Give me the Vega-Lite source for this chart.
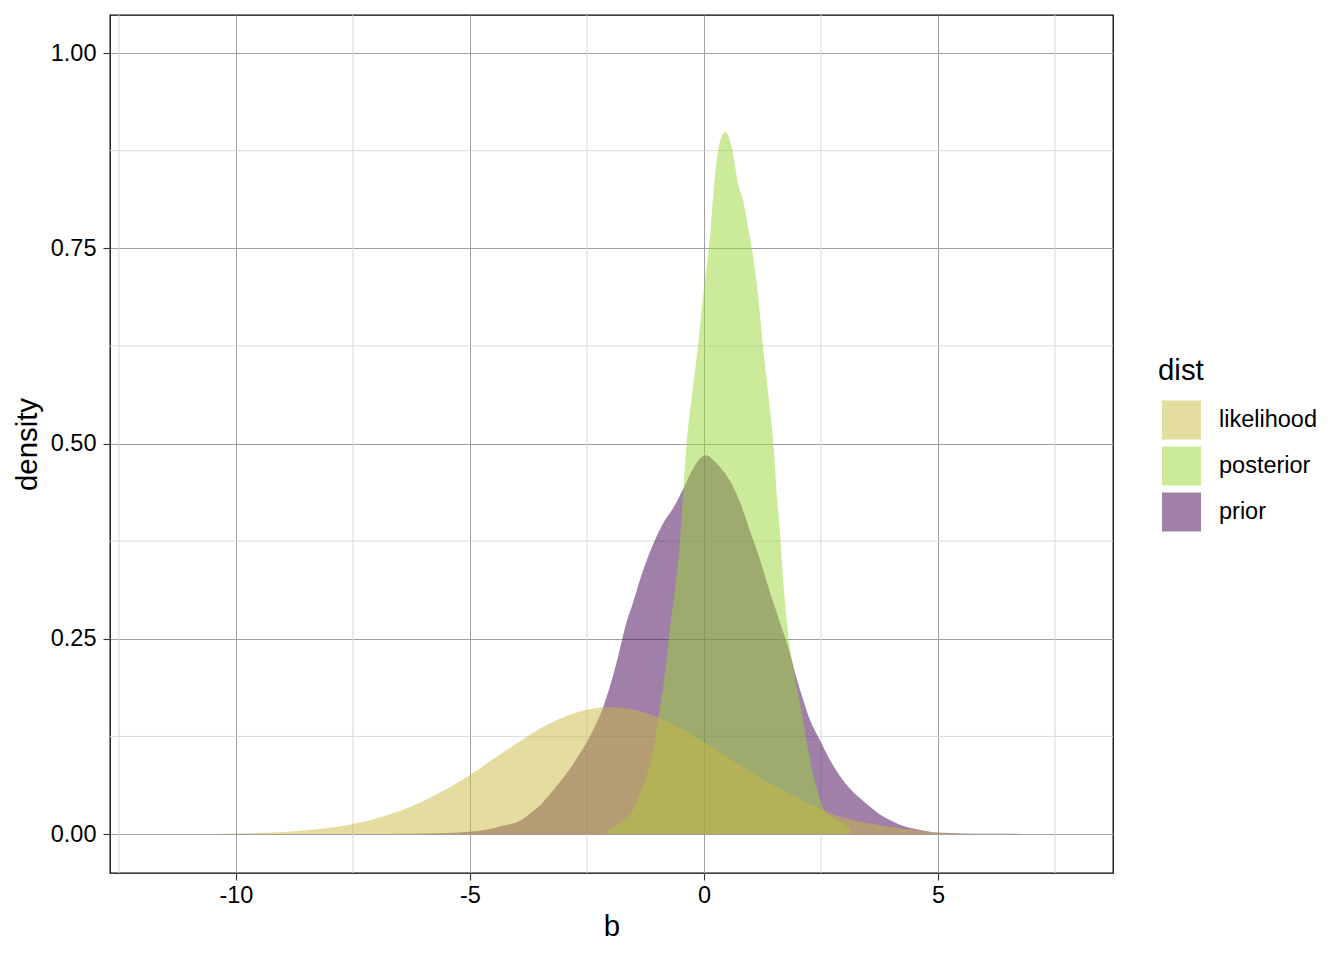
{
  "$schema": "https://vega.github.io/schema/vega-lite/v6.json",
  "width": 1003,
  "height": 858,
  "autosize": "none",
  "padding": {"left": 110, "top": 15, "right": 231, "bottom": 87},
  "background": "white",
  "datasets": {
    "dens": [
      {"dist": "prior", "b": -6.64, "density": 0.0003},
      {"dist": "prior", "b": -6.0, "density": 0.0006},
      {"dist": "prior", "b": -5.5, "density": 0.0012},
      {"dist": "prior", "b": -5.0, "density": 0.003},
      {"dist": "prior", "b": -4.6, "density": 0.006},
      {"dist": "prior", "b": -4.36, "density": 0.010},
      {"dist": "prior", "b": -3.93, "density": 0.017},
      {"dist": "prior", "b": -3.68, "density": 0.028},
      {"dist": "prior", "b": -3.5, "density": 0.037},
      {"dist": "prior", "b": -3.22, "density": 0.056},
      {"dist": "prior", "b": -2.93, "density": 0.078},
      {"dist": "prior", "b": -2.65, "density": 0.103},
      {"dist": "prior", "b": -2.37, "density": 0.133},
      {"dist": "prior", "b": -2.15, "density": 0.163},
      {"dist": "prior", "b": -2.01, "density": 0.189},
      {"dist": "prior", "b": -1.87, "density": 0.219},
      {"dist": "prior", "b": -1.76, "density": 0.246},
      {"dist": "prior", "b": -1.65, "density": 0.272},
      {"dist": "prior", "b": -1.51, "density": 0.297},
      {"dist": "prior", "b": -1.37, "density": 0.325},
      {"dist": "prior", "b": -1.22, "density": 0.351},
      {"dist": "prior", "b": -1.05, "density": 0.376},
      {"dist": "prior", "b": -0.87, "density": 0.398},
      {"dist": "prior", "b": -0.66, "density": 0.417},
      {"dist": "prior", "b": -0.44, "density": 0.442},
      {"dist": "prior", "b": -0.23, "density": 0.468},
      {"dist": "prior", "b": -0.08, "density": 0.481},
      {"dist": "prior", "b": 0.06, "density": 0.485},
      {"dist": "prior", "b": 0.2, "density": 0.479},
      {"dist": "prior", "b": 0.34, "density": 0.470},
      {"dist": "prior", "b": 0.56, "density": 0.452},
      {"dist": "prior", "b": 0.77, "density": 0.425},
      {"dist": "prior", "b": 0.98, "density": 0.389},
      {"dist": "prior", "b": 1.20, "density": 0.351},
      {"dist": "prior", "b": 1.41, "density": 0.310},
      {"dist": "prior", "b": 1.62, "density": 0.272},
      {"dist": "prior", "b": 1.84, "density": 0.231},
      {"dist": "prior", "b": 1.98, "density": 0.199},
      {"dist": "prior", "b": 2.12, "density": 0.172},
      {"dist": "prior", "b": 2.26, "density": 0.147},
      {"dist": "prior", "b": 2.48, "density": 0.120},
      {"dist": "prior", "b": 2.69, "density": 0.095},
      {"dist": "prior", "b": 2.91, "density": 0.074},
      {"dist": "prior", "b": 3.12, "density": 0.058},
      {"dist": "prior", "b": 3.33, "density": 0.046},
      {"dist": "prior", "b": 3.55, "density": 0.035},
      {"dist": "prior", "b": 3.76, "density": 0.025},
      {"dist": "prior", "b": 3.97, "density": 0.018},
      {"dist": "prior", "b": 4.19, "density": 0.012},
      {"dist": "prior", "b": 4.47, "density": 0.007},
      {"dist": "prior", "b": 4.83, "density": 0.003},
      {"dist": "prior", "b": 5.04, "density": 0.0015},
      {"dist": "prior", "b": 5.5, "density": 0.0008},
      {"dist": "prior", "b": 6.0, "density": 0.0005},
      {"dist": "prior", "b": 6.7, "density": 0.0003},

      {"dist": "posterior", "b": -2.09, "density": 0.002},
      {"dist": "posterior", "b": -1.9, "density": 0.010},
      {"dist": "posterior", "b": -1.72, "density": 0.018},
      {"dist": "posterior", "b": -1.55, "density": 0.027},
      {"dist": "posterior", "b": -1.45, "density": 0.039},
      {"dist": "posterior", "b": -1.37, "density": 0.052},
      {"dist": "posterior", "b": -1.19, "density": 0.082},
      {"dist": "posterior", "b": -1.05, "density": 0.120},
      {"dist": "posterior", "b": -0.94, "density": 0.163},
      {"dist": "posterior", "b": -0.83, "density": 0.206},
      {"dist": "posterior", "b": -0.73, "density": 0.261},
      {"dist": "posterior", "b": -0.62, "density": 0.312},
      {"dist": "posterior", "b": -0.51, "density": 0.376},
      {"dist": "posterior", "b": -0.44, "density": 0.440},
      {"dist": "posterior", "b": -0.37, "density": 0.500},
      {"dist": "posterior", "b": -0.25, "density": 0.565},
      {"dist": "posterior", "b": -0.12, "density": 0.628},
      {"dist": "posterior", "b": -0.01, "density": 0.693},
      {"dist": "posterior", "b": 0.13, "density": 0.765},
      {"dist": "posterior", "b": 0.235, "density": 0.842},
      {"dist": "posterior", "b": 0.34, "density": 0.886},
      {"dist": "posterior", "b": 0.46, "density": 0.899},
      {"dist": "posterior", "b": 0.59, "density": 0.880},
      {"dist": "posterior", "b": 0.73, "density": 0.833},
      {"dist": "posterior", "b": 0.84, "density": 0.810},
      {"dist": "posterior", "b": 0.98, "density": 0.765},
      {"dist": "posterior", "b": 1.13, "density": 0.705},
      {"dist": "posterior", "b": 1.27, "density": 0.620},
      {"dist": "posterior", "b": 1.41, "density": 0.545},
      {"dist": "posterior", "b": 1.48, "density": 0.504},
      {"dist": "posterior", "b": 1.55, "density": 0.440},
      {"dist": "posterior", "b": 1.62, "density": 0.390},
      {"dist": "posterior", "b": 1.69, "density": 0.327},
      {"dist": "posterior", "b": 1.77, "density": 0.274},
      {"dist": "posterior", "b": 1.87, "density": 0.225},
      {"dist": "posterior", "b": 1.98, "density": 0.189},
      {"dist": "posterior", "b": 2.09, "density": 0.155},
      {"dist": "posterior", "b": 2.19, "density": 0.120},
      {"dist": "posterior", "b": 2.33, "density": 0.078},
      {"dist": "posterior", "b": 2.48, "density": 0.044},
      {"dist": "posterior", "b": 2.59, "density": 0.029},
      {"dist": "posterior", "b": 2.76, "density": 0.021},
      {"dist": "posterior", "b": 2.94, "density": 0.0145},
      {"dist": "posterior", "b": 3.12, "density": 0.0073},

      {"dist": "likelihood", "b": -10.3, "density": 0.0005},
      {"dist": "likelihood", "b": -10.0, "density": 0.0008},
      {"dist": "likelihood", "b": -9.5, "density": 0.0015},
      {"dist": "likelihood", "b": -9.0, "density": 0.0027},
      {"dist": "likelihood", "b": -8.5, "density": 0.0048},
      {"dist": "likelihood", "b": -8.0, "density": 0.0080},
      {"dist": "likelihood", "b": -7.5, "density": 0.0130},
      {"dist": "likelihood", "b": -7.0, "density": 0.0200},
      {"dist": "likelihood", "b": -6.5, "density": 0.0295},
      {"dist": "likelihood", "b": -6.0, "density": 0.0420},
      {"dist": "likelihood", "b": -5.5, "density": 0.0575},
      {"dist": "likelihood", "b": -5.0, "density": 0.0755},
      {"dist": "likelihood", "b": -4.5, "density": 0.0960},
      {"dist": "likelihood", "b": -4.0, "density": 0.1160},
      {"dist": "likelihood", "b": -3.5, "density": 0.1350},
      {"dist": "likelihood", "b": -3.0, "density": 0.1495},
      {"dist": "likelihood", "b": -2.5, "density": 0.1590},
      {"dist": "likelihood", "b": -2.0, "density": 0.1628},
      {"dist": "likelihood", "b": -1.5, "density": 0.1595},
      {"dist": "likelihood", "b": -1.0, "density": 0.1500},
      {"dist": "likelihood", "b": -0.5, "density": 0.1355},
      {"dist": "likelihood", "b": 0.0, "density": 0.1180},
      {"dist": "likelihood", "b": 0.5, "density": 0.0985},
      {"dist": "likelihood", "b": 1.0, "density": 0.0795},
      {"dist": "likelihood", "b": 1.5, "density": 0.0620},
      {"dist": "likelihood", "b": 2.0, "density": 0.0460},
      {"dist": "likelihood", "b": 2.5, "density": 0.0315},
      {"dist": "likelihood", "b": 3.0, "density": 0.0210},
      {"dist": "likelihood", "b": 3.5, "density": 0.0140},
      {"dist": "likelihood", "b": 4.0, "density": 0.0090},
      {"dist": "likelihood", "b": 4.5, "density": 0.0050},
      {"dist": "likelihood", "b": 5.0, "density": 0.0018},
      {"dist": "likelihood", "b": 5.5, "density": 0.0007},
      {"dist": "likelihood", "b": 6.0, "density": 0.0004},
      {"dist": "likelihood", "b": 6.4, "density": 0.0003}
    ],
    "minorx": [{"gx": -12.5}, {"gx": -7.5}, {"gx": -2.5}, {"gx": 2.5}, {"gx": 7.5}],
    "minory": [{"gy": 0.125}, {"gy": 0.375}, {"gy": 0.625}, {"gy": 0.875}]
  },
  "layer": [
    {
      "data": {"name": "minorx"},
      "mark": {"type": "rule", "color": "#d9d9d9", "strokeWidth": 1},
      "encoding": {
        "x": {"field": "gx", "type": "quantitative", "title": "b"}
      }
    },
    {
      "data": {"name": "minory"},
      "mark": {"type": "rule", "color": "#d9d9d9", "strokeWidth": 1},
      "encoding": {
        "y": {"field": "gy", "type": "quantitative", "title": "density"}
      }
    },
    {
      "data": {"name": "dens"},
      "transform": [{"filter": "datum.dist === 'prior'"}],
      "mark": {"type": "area", "interpolate": "monotone", "opacity": 0.5},
      "encoding": {
        "x": {"field": "b", "type": "quantitative", "title": "b"},
        "y": {"field": "density", "type": "quantitative", "title": "density"},
        "y2": {"datum": 0},
        "color": {"field": "dist", "type": "nominal"}
      }
    },
    {
      "data": {"name": "dens"},
      "transform": [{"filter": "datum.dist === 'posterior'"}],
      "mark": {"type": "area", "interpolate": "monotone", "opacity": 0.5},
      "encoding": {
        "x": {"field": "b", "type": "quantitative", "title": "b"},
        "y": {"field": "density", "type": "quantitative", "title": "density"},
        "y2": {"datum": 0},
        "color": {"field": "dist", "type": "nominal"}
      }
    },
    {
      "data": {"name": "dens"},
      "transform": [{"filter": "datum.dist === 'likelihood'"}],
      "mark": {"type": "area", "interpolate": "monotone", "opacity": 0.5},
      "encoding": {
        "x": {
          "field": "b", "type": "quantitative", "title": "b",
          "scale": {"domain": [-12.69, 8.74], "nice": false, "zero": false},
          "axis": {"values": [-10, -5, 0, 5], "labelExpr": "'' + datum.value", "labelPadding": 3, "titlePadding": 6}
        },
        "y": {
          "field": "density", "type": "quantitative", "title": "density",
          "scale": {"domain": [-0.0499, 1.0487], "nice": false, "zero": false},
          "axis": {"values": [0, 0.25, 0.5, 0.75, 1], "format": ".2f", "labelPadding": 7, "titlePadding": 8}
        },
        "y2": {"datum": 0},
        "color": {
          "field": "dist", "type": "nominal",
          "scale": {"domain": ["likelihood", "posterior", "prior"], "range": ["#CBB941", "#99D735", "#410051"]},
          "legend": {
            "title": "dist",
            "orient": "none",
            "legendX": 1048,
            "legendY": 342,
            "symbolOffset": 4
          }
        }
      }
    }
  ],
  "config": {
    "font": "Liberation Sans",
    "view": {"stroke": "#000000", "strokeWidth": 1.3},
    "axis": {
      "domain": false,
      "grid": true,
      "gridColor": "#a0a0a0",
      "gridWidth": 1,
      "tickColor": "#333333",
      "tickSize": 7,
      "tickWidth": 1.1,
      "labelFont": "Liberation Sans",
      "labelFontSize": 23.5,
      "labelColor": "#000000",
      "titleFont": "Liberation Sans",
      "titleFontSize": 29.4,
      "titleFontWeight": "normal",
      "titleColor": "#000000",
      "labelOverlap": false,
      "labelFlush": false
    },
    "legend": {
      "padding": 0,
      "titleFont": "Liberation Sans",
      "titleFontSize": 29.4,
      "titleFontWeight": "normal",
      "titleColor": "#000000",
      "titlePadding": 14,
      "labelFont": "Liberation Sans",
      "labelFontSize": 23.5,
      "labelColor": "#000000",
      "labelOffset": 18,
      "symbolType": "square",
      "symbolSize": 1521,
      "symbolOpacity": 0.5,
      "symbolStrokeWidth": 0,
      "rowPadding": 7
    }
  }
}
